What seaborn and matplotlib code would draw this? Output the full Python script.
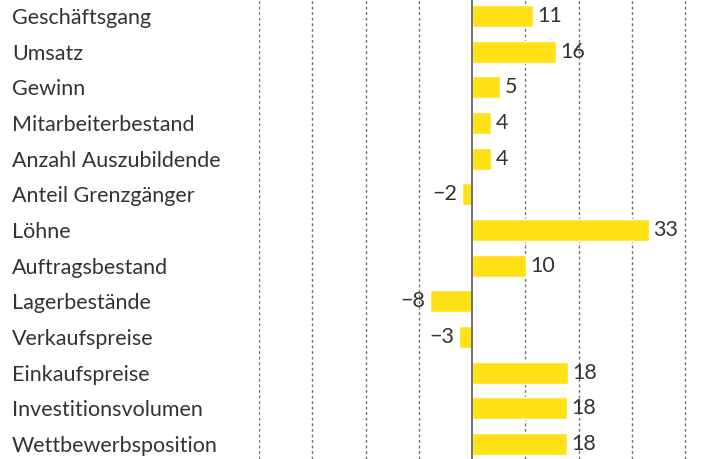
import seaborn as sns
import matplotlib.pyplot as plt
import pandas as pd

categories = ["Geschäftsgang", "Umsatz", "Gewinn", "Mitarbeiterbestand",
              "Anzahl Auszubildende", "Anteil Grenzgänger", "Löhne",
              "Auftragsbestand", "Lagerbestände", "Verkaufspreise",
              "Einkaufspreise", "Investitionsvolumen", "Wettbewerbsposition"]
values = [11.4, 15.8, 5.3, 3.6, 3.6, -1.8, 33.3, 10.1, -7.8, -2.5, 18.0, 17.9, 17.9]
shown = ["11", "16", "5", "4", "4", "\u22122", "33", "10", "\u22128", "\u22123", "18", "18", "18"]

df = pd.DataFrame({"cat": categories, "val": values})

sns.set_style("white")
plt.rcParams['font.family'] = ['Lato', 'DejaVu Sans']

fig = plt.figure(figsize=(7.01, 4.59), dpi=100)
ax = fig.add_axes([259 / 701, 0, (701 - 259) / 701, 1])

sns.barplot(data=df, x="val", y="cat", color="#FFE116", saturation=1,
            width=0.62, orient="h", ax=ax, zorder=3)

ax.set_xlim(-40, 43)
ax.set_ylim(12.42, -0.45)

for g in [-40, -30, -20, -10, 10, 20, 30, 40]:
    ax.axvline(g, color="#6f6f6f", lw=1.0, ls=(0, (2, 2)), zorder=1)
ax.axvline(0, color="#707070", lw=1.4, zorder=4)

for i, (v, s) in enumerate(zip(values, shown)):
    if v >= 0:
        ax.text(v + 0.8, i, s, ha="left", va="center", fontsize=15.5, color="#333333")
    else:
        ax.text(v - 0.9, i, s, ha="right", va="center", fontsize=15.5, color="#333333")

ax.set_xticks([])
ax.set_xlabel("")
ax.set_ylabel("")
ax.tick_params(axis="y", length=0, pad=(259 - 12) * 0.72, labelsize=15.5, labelcolor="#333333")
for lab in ax.get_yticklabels():
    lab.set_horizontalalignment("left")
sns.despine(ax=ax, left=True, bottom=True)

fig.savefig("out.png", dpi=100)
